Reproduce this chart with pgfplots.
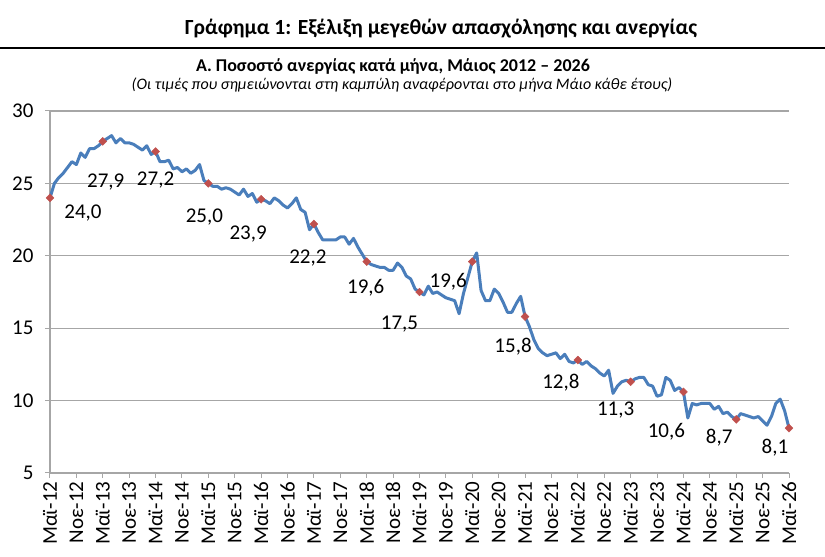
\documentclass[border=0pt]{standalone}
\usepackage{fontspec}
\setmainfont{Carlito}
\usepackage{pgfplots}
\pgfplotsset{compat=1.18}
\definecolor{lineblue}{HTML}{4A7EBB}
\definecolor{mred}{HTML}{C0504D}
\definecolor{gridgray}{HTML}{A6A6A6}
\pgfplotstableread{
i v
0 24.0
1 25.0
2 25.4
3 25.7
4 26.1
5 26.5
6 26.3
7 27.1
8 26.8
9 27.4
10 27.4
11 27.6
12 27.9
13 28.1
14 28.3
15 27.8
16 28.1
17 27.8
18 27.8
19 27.7
20 27.5
21 27.3
22 27.6
23 27.0
24 27.2
25 26.5
26 26.5
27 26.6
28 26.0
29 26.1
30 25.8
31 26.0
32 25.7
33 25.9
34 26.3
35 25.2
36 25.0
37 24.8
38 24.8
39 24.6
40 24.7
41 24.6
42 24.4
43 24.2
44 24.6
45 24.1
46 24.3
47 23.7
48 23.9
49 23.8
50 23.6
51 24.0
52 23.8
53 23.5
54 23.3
55 23.6
56 24.0
57 23.2
58 23.0
59 21.8
60 22.2
61 21.6
62 21.1
63 21.1
64 21.1
65 21.1
66 21.3
67 21.3
68 20.8
69 21.2
70 20.6
71 20.1
72 19.6
73 19.4
74 19.3
75 19.2
76 19.2
77 19.0
78 19.0
79 19.5
80 19.2
81 18.6
82 18.4
83 17.7
84 17.5
85 17.3
86 17.9
87 17.4
88 17.5
89 17.3
90 17.1
91 17.0
92 16.9
93 16.0
94 17.4
95 18.5
96 19.6
97 20.2
98 17.6
99 16.9
100 16.9
101 17.7
102 17.4
103 16.8
104 16.1
105 16.1
106 16.7
107 17.2
108 15.8
109 15.1
110 14.2
111 13.6
112 13.3
113 13.1
114 13.2
115 13.3
116 12.9
117 13.2
118 12.7
119 12.6
120 12.8
121 12.5
122 12.7
123 12.4
124 12.2
125 11.9
126 11.7
127 12.1
128 10.5
129 11.0
130 11.3
131 11.4
132 11.3
133 11.5
134 11.6
135 11.6
136 11.1
137 11.0
138 10.3
139 10.4
140 11.6
141 11.4
142 10.7
143 10.9
144 10.6
145 8.8
146 9.8
147 9.7
148 9.8
149 9.8
150 9.8
151 9.4
152 9.6
153 9.1
154 9.2
155 8.9
156 8.7
157 9.1
158 9.0
159 8.9
160 8.8
161 8.9
162 8.6
163 8.3
164 8.9
165 9.8
166 10.1
167 9.3
168 8.1
}\datatable
\pgfplotstableread{
i v
0 24.0
12 27.9
24 27.2
36 25.0
48 23.9
60 22.2
72 19.6
84 17.5
96 19.6
108 15.8
120 12.8
132 11.3
144 10.6
156 8.7
168 8.1
}\maytable
\begin{document}
\begin{tikzpicture}[x=1pt,y=1pt]
\path[use as bounding box] (0,0) rectangle (825,557);
\draw[black, line width=1.5pt] (0,509) -- (825,509);
\node[font=\fontsize{21.6}{25}\selectfont\bfseries] at (441,528) {Γράφημα 1: Εξέλιξη μεγεθών απασχόλησης και ανεργίας};
\node[font=\fontsize{18}{21}\selectfont\bfseries] at (393,491) {Α. Ποσοστό ανεργίας κατά μήνα, Μάιος 2012 – 2026};
\node[font=\fontsize{16}{19}\selectfont\itshape] at (402,472) {(Οι τιμές που σημειώνονται στη καμπύλη αναφέρονται στο μήνα Μάιο κάθε έτους)};
\begin{axis}[
  at={(50pt,84pt)}, anchor=south west,
  scale only axis, width=739pt, height=362pt,
  xmin=0, xmax=168, ymin=5, ymax=30,
  axis lines*=left,
  axis line style={gridgray, line width=1.2pt, -},
  ymajorgrids, grid style={gridgray, line width=1.2pt},
  ytick={5,10,15,20,25,30},
  yticklabels={5,10,15,20,25,30},
  xtick={0,6,...,168},
  xticklabels={Μαϊ-12,Νοε-12,Μαϊ-13,Νοε-13,Μαϊ-14,Νοε-14,Μαϊ-15,Νοε-15,Μαϊ-16,Νοε-16,Μαϊ-17,Νοε-17,Μαϊ-18,Νοε-18,Μαϊ-19,Νοε-19,Μαϊ-20,Νοε-20,Μαϊ-21,Νοε-21,Μαϊ-22,Νοε-22,Μαϊ-23,Νοε-23,Μαϊ-24,Νοε-24,Μαϊ-25,Νοε-25,Μαϊ-26},
  tick align=outside, major tick length=5pt,
  tick style={gridgray, line width=1pt},
  ticklabel style={font=\fontsize{21}{24}\selectfont},
  yticklabel style={xshift=-8pt},
  xticklabel style={rotate=90, anchor=east, xshift=0pt, yshift=0pt},
  clip=false,
]
\addplot[lineblue, line width=3pt, line join=round, no marks] table[x=i, y=v] {\datatable};
\addplot[only marks, mark=square*, mark size=2.8pt, mark options={rotate=45, draw=mred, fill=mred}] table[x=i, y=v] {\maytable};
\begin{scope}[every node/.style={font=\fontsize{21}{24}\selectfont}]
\node at (axis cs:0,24.0) [xshift=33pt, yshift=-15pt] {24,0};
\node at (axis cs:12,27.9) [xshift=3pt, yshift=-41pt] {27,9};
\node at (axis cs:24,27.2) [xshift=0pt, yshift=-28pt] {27,2};
\node at (axis cs:36,25.0) [xshift=-4pt, yshift=-34pt] {25,0};
\node at (axis cs:48,23.9) [xshift=-13pt, yshift=-35pt] {23,9};
\node at (axis cs:60,22.2) [xshift=-6pt, yshift=-34pt] {22,2};
\node at (axis cs:72,19.6) [xshift=-1pt, yshift=-26pt] {19,6};
\node at (axis cs:84,17.5) [xshift=-20pt, yshift=-32pt] {17,5};
\node at (axis cs:96,19.6) [xshift=-24pt, yshift=-20pt] {19,6};
\node at (axis cs:108,15.8) [xshift=-12pt, yshift=-30pt] {15,8};
\node at (axis cs:120,12.8) [xshift=-17pt, yshift=-23pt] {12,8};
\node at (axis cs:132,11.3) [xshift=-15pt, yshift=-28pt] {11,3};
\node at (axis cs:144,10.6) [xshift=-17pt, yshift=-40pt] {10,6};
\node at (axis cs:156,8.7) [xshift=-17pt, yshift=-18pt] {8,7};
\node at (axis cs:168,8.1) [xshift=-14pt, yshift=-20pt] {8,1};
\end{scope}
\end{axis}
\end{tikzpicture}
\end{document}
